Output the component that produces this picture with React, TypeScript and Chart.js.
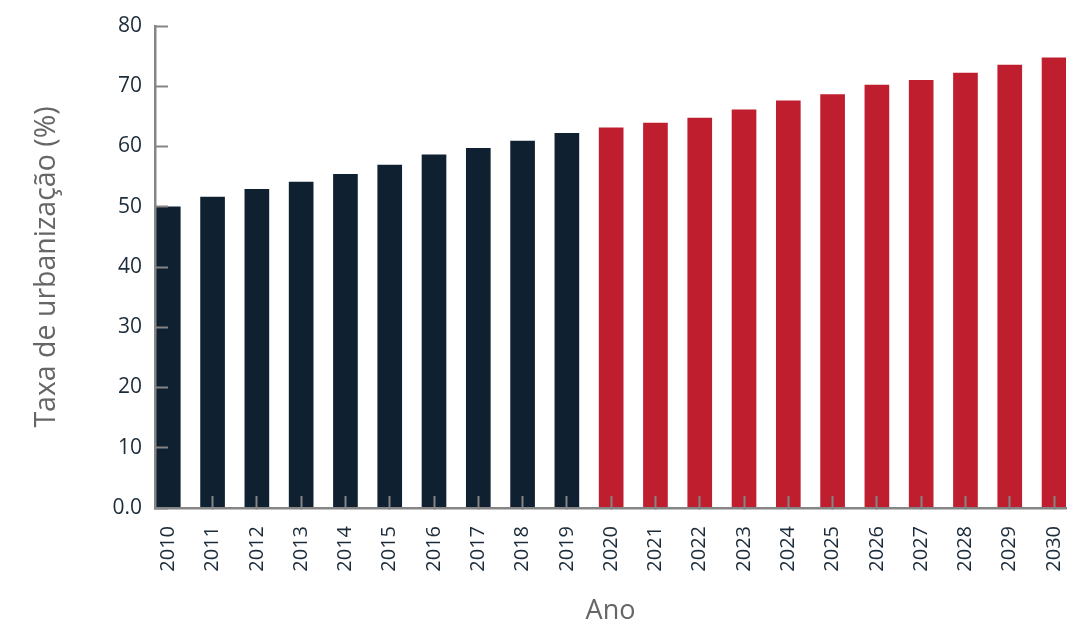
import React, { useEffect, useRef } from "react";
import { Chart, CategoryScale, registerables } from "chart.js";

const years: string[] = [
  "2010", "2011", "2012", "2013", "2014", "2015", "2016", "2017", "2018", "2019",
  "2020", "2021", "2022", "2023", "2024", "2025", "2026", "2027", "2028", "2029", "2030",
];
const urbanRate: number[] = [
  50.0, 51.6, 52.9, 54.1, 55.4, 56.9, 58.6, 59.7, 60.9, 62.2,
  63.1, 63.9, 64.7, 66.1, 67.6, 68.6, 70.2, 71.0, 72.2, 73.5, 74.7,
];
const firstProjectedYear = "2020";
const yTickValues: number[] = [0, 10, 20, 30, 40, 50, 60, 70, 80];

const HIST_COLOR = "#0f2130";
const PROJ_COLOR = "#be1e2d";
const AXIS_COLOR = "#858585";
const LABEL_COLOR = "#1c2b39";
const TITLE_COLOR = "#666666";
const FONT = "'Open Sans'";

class PaddedCategoryScale extends CategoryScale {
  static id = "paddedCategory";
  buildTicks() {
    const ticks = super.buildTicks();
    const self = this as any;
    const leftPad = 0.3;
    const rightPad = 0.27;
    self._startValue = this.min - leftPad;
    self._valueRange = this.max - this.min + leftPad + rightPad;
    return ticks;
  }
}

Chart.register(...registerables, PaddedCategoryScale);

export default function App() {
  const canvasRef = useRef<HTMLCanvasElement | null>(null);

  useEffect(() => {
    const canvas = canvasRef.current;
    if (!canvas) return;
    const projIndex = years.indexOf(firstProjectedYear);
    const chart = new Chart(canvas, {
      type: "bar",
      data: {
        labels: years,
        datasets: [
          {
            data: urbanRate,
            backgroundColor: years.map((_, i) => (i < projIndex ? HIST_COLOR : PROJ_COLOR)),
            barThickness: 24,
            borderWidth: 0,
          },
        ],
      },
      options: {
        responsive: false,
        animation: false,
        layout: { padding: { top: 26, right: 12, left: 0, bottom: 0 } },
        plugins: { legend: { display: false }, tooltip: { enabled: false } },
        scales: {
          x: {
            type: "paddedCategory" as any,
            offset: false,
            grid: {
              offset: false,
              drawOnChartArea: false,
              drawTicks: true,
              tickLength: -12,
              tickWidth: 2,
              tickColor: (ctx: any) => (ctx.index === 0 ? "rgba(0,0,0,0)" : AXIS_COLOR),
              z: 1,
            },
            border: { display: true, color: AXIS_COLOR, width: 2.5, z: 1 },
            ticks: {
              autoSkip: false,
              maxRotation: 90,
              minRotation: 90,
              padding: 30,
              color: LABEL_COLOR,
              font: { family: FONT, size: 20 },
            },
            title: {
              display: true,
              text: "Ano",
              color: TITLE_COLOR,
              font: { family: FONT, size: 27, lineHeight: 1 },
              padding: { top: 0, bottom: 1 },
            },
            afterFit: (scale: any) => {
              scale.height = 118;
              scale.paddingLeft = 0;
              scale.paddingRight = 0;
            },
          },
          y: {
            min: 0,
            max: 80,
            afterBuildTicks: (scale: any) => {
              scale.ticks = yTickValues.map((v) => ({ value: v }));
            },
            grid: {
              drawOnChartArea: false,
              drawTicks: true,
              tickLength: -13,
              tickWidth: 2,
              tickColor: AXIS_COLOR,
              z: 1,
            },
            border: { display: true, color: AXIS_COLOR, width: 2.5, z: 1 },
            ticks: {
              padding: 26,
              color: LABEL_COLOR,
              font: { family: FONT, size: 21 },
              callback: (v: any) => (Number(v) === 0 ? "0.0" : String(v)),
            },
            title: {
              display: true,
              text: "Taxa de urbanização (%)",
              color: TITLE_COLOR,
              font: { family: FONT, size: 28.5, lineHeight: 1.2 },
              padding: { top: 30, bottom: 0 },
            },
            afterFit: (scale: any) => {
              scale.width = 155;
              scale.paddingTop = 0;
              scale.paddingBottom = 0;
            },
          },
        },
      },
    });
    return () => chart.destroy();
  }, []);

  return (
    <div style={{ position: "absolute", left: 0, top: 0, width: 1078, height: 626, background: "#ffffff" }}>
      <canvas ref={canvasRef} width={1078} height={626} />
    </div>
  );
}
